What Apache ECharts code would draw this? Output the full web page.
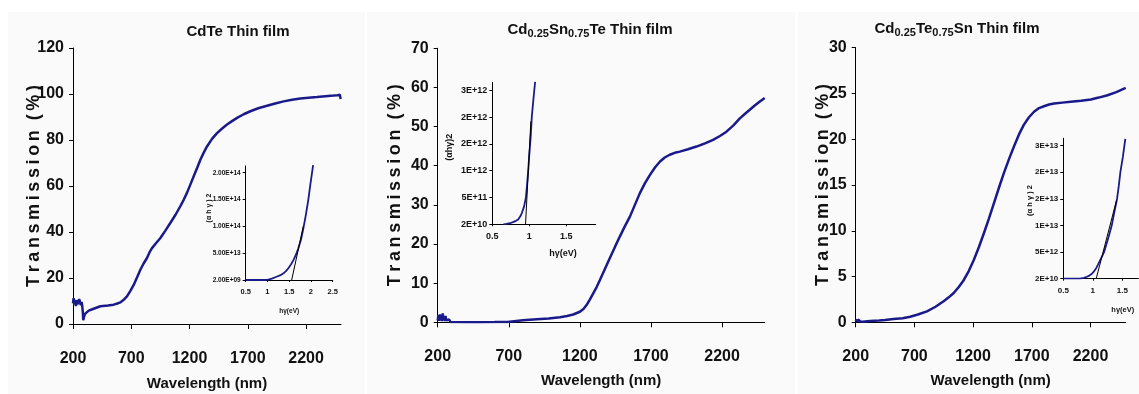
<!DOCTYPE html>
<html>
<head>
<meta charset="utf-8">
<script src="https://cdn.jsdelivr.net/npm/echarts@6.0.0/dist/echarts.min.js"></script>
<style>
  html, body { margin: 0; padding: 0; background: #fff; }
  #chart { width: 1139px; height: 394px; }
</style>
</head>
<body>
<div id="chart"></div>
<script>
// transmission spectra, wavelength in nm, transmission in %
const wlCdTe = [200, 205, 212, 218, 225, 231, 238, 246, 253, 260, 267, 274, 280, 285, 288, 295, 305, 317, 335, 360, 377, 435, 500, 549, 580, 606, 635, 663, 690, 721, 750, 778, 806, 835, 860, 878, 910, 950, 990, 1035, 1080, 1121, 1150, 1178, 1207, 1236, 1265, 1293, 1322, 1350, 1393, 1436, 1480, 1522, 1565, 1608, 1665, 1722, 1790, 1865, 1935, 2008, 2080, 2151, 2220, 2294, 2365, 2437, 2470, 2490, 2497];
const trCdTe = [9, 11.2, 8.5, 10.5, 7.8, 10.4, 8.6, 8.3, 10.8, 9.6, 8.2, 9.6, 7.5, 4.6, 1.7, 3.2, 4.5, 5.3, 5.8, 6.3, 7, 7.7, 8.0, 8.4, 8.9, 9.4, 10.5, 12, 14.2, 17, 20.3, 23.6, 26.3, 28.7, 31.5, 33, 35, 37.4, 40.4, 43.9, 47.5, 51.2, 54, 57, 60.6, 64.2, 67.8, 71.4, 74.5, 77.2, 80.5, 83, 85, 86.7, 88.2, 89.6, 91.2, 92.5, 93.8, 94.9, 95.9, 96.8, 97.5, 98, 98.4, 98.7, 99, 99.3, 99.5, 99.7, 97.8];

const wlSn = [200, 205, 210, 215, 220, 225, 230, 235, 240, 245, 250, 255, 260, 265, 270, 280, 290, 300, 400, 500, 600, 690, 700, 800, 896, 980, 1060, 1110, 1153, 1200, 1225, 1247, 1270, 1294, 1318, 1341, 1376, 1411, 1446, 1481, 1516, 1552, 1587, 1622, 1657, 1692, 1727, 1762, 1797, 1832, 1867, 1903, 1960, 2020, 2080, 2137, 2185, 2231, 2280, 2325, 2360, 2395, 2430, 2466, 2500];
const trSn = [0.5, 1.8, 0.4, 2.0, 0.6, 1.5, 0.3, 2.3, 0.8, 1.4, 0.3, 1.6, 0.5, 1.0, 0.2, 0.7, 0.1, 0, 0, 0, 0.05, 0.1, 0.3, 0.5, 0.8, 1.0, 1.3, 1.6, 2.0, 2.7, 3.4, 4.4, 5.8, 7.4, 9.0, 10.8, 13.6, 16.4, 19.2, 21.9, 24.5, 27, 30, 33, 35.5, 37.6, 39.5, 41, 42.1, 42.8, 43.3, 43.6, 44.2, 44.9, 45.7, 46.6, 47.6, 48.7, 50.3, 52.1, 53.2, 54.3, 55.4, 56.4, 57.3];

const wlTe = [200, 205, 210, 215, 220, 225, 230, 240, 250, 260, 270, 280, 290, 322, 400, 450, 522, 600, 664, 730, 807, 880, 949, 990, 1035, 1078, 1120, 1163, 1206, 1249, 1291, 1334, 1377, 1420, 1462, 1505, 1548, 1590, 1633, 1676, 1719, 1762, 1804, 1847, 1890, 1960, 2032, 2120, 2203, 2270, 2345, 2420, 2500];
const trTe = [0.3, 0.1, 0.35, 0.05, 0.3, 0.1, 0.38, 0.1, 0.3, 0.05, 0.25, 0.1, 0.15, 0.15, 0.2, 0.25, 0.36, 0.45, 0.6, 0.85, 1.2, 1.7, 2.3, 2.7, 3.2, 3.85, 4.6, 5.6, 6.8, 8.2, 9.7, 11.3, 13, 14.7, 16.3, 17.8, 19.2, 20.5, 21.6, 22.4, 23, 23.4, 23.6, 23.8, 23.9, 24.0, 24.1, 24.2, 24.35, 24.55, 24.8, 25.15, 25.6];

// Tauc plots (photon energy in eV vs (alpha h nu)^2) and their tangents
const evCdTe = [0.5, 0.7, 0.9, 1.0, 1.1, 1.21, 1.3, 1.37, 1.43, 1.48, 1.54, 1.6, 1.66, 1.71, 1.77, 1.82, 1.88, 1.94, 1.99, 2.05];
const tcCdTe = [2e9, 2e9, 2e9, 1e11, 2.5e12, 6e12, 9e12, 1.25e13, 1.7e13, 2.2e13, 2.9e13, 3.75e13, 4.8e13, 5.9e13, 7.5e13, 9.4e13, 1.2e14, 1.5e14, 1.8e14, 2.14e14];
const fitEvCdTe = [1.557, 1.824];
const fitTcCdTe = [2e9, 1.0e14];

const evSn = [0.65, 0.69, 0.74, 0.78, 0.82, 0.85, 0.88, 0.9, 0.93, 0.955, 0.97, 0.986, 1.0, 1.02, 1.035, 1.06, 1.08];
const tcSn = [2e10, 2.6e10, 4e10, 6e10, 8.5e10, 1.1e11, 1.7e11, 2.3e11, 3.5e11, 5.2e11, 7.5e11, 1.02e12, 1.3e12, 1.66e12, 2.03e12, 2.4e12, 2.68e12];
const fitEvSn = [0.95, 1.022];
const fitTcSn = [2e10, 1.94e12];

const evTe = [0.5, 0.65, 0.78, 0.85, 0.9, 0.94, 0.98, 1.02, 1.057, 1.09, 1.125, 1.16, 1.19, 1.23, 1.27, 1.32, 1.36, 1.41, 1.44, 1.466, 1.51, 1.55];
const tcTe = [2e10, 2e10, 4e10, 1.6e11, 3.9e11, 6e11, 9e11, 1.4e12, 2e12, 2.7e12, 3.5e12, 4.3e12, 5e12, 6.5e12, 8e12, 1e13, 1.23e13, 1.5e13, 1.75e13, 2e13, 2.3e13, 2.63e13];
const fitEvTe = [1.057, 1.4];
const fitTcTe = [2e10, 1.47e13];

const FONT = '"Liberation Sans Narrow", "Arial Narrow", "Liberation Sans", Arial, sans-serif';
const NAVY = '#1a1a8a';
const INK = '#111';
const THIN = '\u2009';
// the y title is letter-spaced in the original
const TRANS_TITLE = 'Transmission'.split('').join(THIN) + '  ' + ['(', '%', ')'].join(THIN);

const pairs = (xs, ys) => xs.map((x, i) => [x, ys[i]]);

// excel style scientific labels: 2.00E+09, 5E+11
const sci = (digits) => (v) => {
  const [m, e] = v.toExponential(digits).split('e');
  return m + 'E' + e[0] + e.slice(1).padStart(2, '0');
};

const txt = (size) => ({ fontFamily: FONT, fontSize: size, fontWeight: 'bold', color: INK });
const axisLine = { show: true, onZero: false, lineStyle: { color: '#000', width: 1 } };

function mainX(gridIndex, nameGap, labelMargin) {
  return {
    gridIndex, type: 'value', min: 200, max: 2500, interval: 500,
    name: 'Wavelength (nm)', nameLocation: 'middle', nameGap, nameMoveOverlap: false,
    nameTextStyle: txt(15),
    axisLine, axisTick: { show: true, inside: false, length: 5, lineStyle: { color: '#000' } },
    axisLabel: { ...txt(16), margin: labelMargin, showMaxLabel: false, formatter: (v) => String(v) },
    splitLine: { show: false }
  };
}

function mainY(gridIndex, max, interval, nameGap) {
  return {
    gridIndex, type: 'value', min: 0, max, interval,
    name: TRANS_TITLE, nameLocation: 'middle', nameGap, nameMoveOverlap: false,
    nameTextStyle: txt(18),
    axisLine, axisTick: { show: true, inside: false, length: 4, lineStyle: { color: '#000' } },
    axisLabel: { ...txt(16), margin: 9 },
    splitLine: { show: false }
  };
}

function insetX(gridIndex, max, size, nameSize, nameGap, shift, showMax) {
  return {
    gridIndex, type: 'value', min: 0.5, max, interval: 0.5,
    name: 'hγ(eV)', nameLocation: 'middle', nameGap, nameMoveOverlap: false,
    nameTextStyle: { ...txt(nameSize), padding: [0, 0, 0, shift] },
    axisLine, axisTick: { show: true, inside: false, length: 2, lineStyle: { color: '#000' } },
    axisLabel: { ...txt(size), margin: 8, showMaxLabel: showMax },
    splitLine: { show: false }
  };
}

function insetY(gridIndex, min, max, interval, digits, size, name, nameSize, nameGap, shift) {
  return {
    gridIndex, type: 'value', min, max, interval,
    name, nameLocation: 'middle', nameGap, nameMoveOverlap: false,
    nameTextStyle: { ...txt(nameSize), padding: [0, 0, 0, shift] },
    axisLine, axisTick: { show: true, inside: false, length: 3, lineStyle: { color: '#000' } },
    axisLabel: { ...txt(size), margin: 5, showMaxLabel: false, formatter: sci(digits) },
    splitLine: { show: false }
  };
}

function line(xi, data, color, width) {
  return {
    type: 'line', xAxisIndex: xi, yAxisIndex: xi, data,
    showSymbol: false, clip: true, animation: false,
    lineStyle: { color, width }
  };
}

const sub = { fontFamily: FONT, fontSize: 11, fontWeight: 'bold', color: INK, padding: [8, 0, 0, 0] };
const titleStyle = { ...txt(15), rich: { s: sub } };

const chart = echarts.init(document.getElementById('chart'), null, { renderer: 'canvas' });

chart.setOption({
  backgroundColor: '#fff',
  animation: false,
  graphic: [
    { type: 'rect', z: -10, shape: { x: 8, y: 12, width: 357, height: 382 }, style: { fill: '#fafafa' } },
    { type: 'rect', z: -10, shape: { x: 367, y: 12, width: 428, height: 382 }, style: { fill: '#fafafa' } },
    { type: 'rect', z: -10, shape: { x: 798, y: 12, width: 341, height: 382 }, style: { fill: '#fafafa' } }
  ],
  title: [
    { text: 'CdTe Thin film', left: 238, top: 24, textAlign: 'center', padding: 0, textStyle: titleStyle },
    { text: 'Cd{s|0.25}Sn{s|0.75}Te Thin film', left: 590, top: 20, textAlign: 'center', padding: 0, textStyle: titleStyle },
    { text: 'Cd{s|0.25}Te{s|0.75}Sn Thin film', left: 957, top: 19, textAlign: 'center', padding: 0, textStyle: titleStyle }
  ],
  grid: [
    { left: 73, top: 48, width: 268, height: 276, outerBoundsMode: 'none' },
    { left: 437.7, top: 48.3, width: 327, height: 274, outerBoundsMode: 'none' },
    { left: 855.7, top: 47.7, width: 270, height: 274.6, outerBoundsMode: 'none' },
    { left: 245.7, top: 166, width: 87, height: 114, outerBoundsMode: 'none' },
    { left: 492.3, top: 82.3, width: 103.4, height: 142, outerBoundsMode: 'none' },
    { left: 1063.3, top: 138.3, width: 75, height: 140.4, outerBoundsMode: 'none' }
  ],
  xAxis: [
    mainX(0, 52, 27),
    mainX(1, 51, 26),
    mainX(2, 51, 26),
    insetX(3, 2.5, 7.5, 6.5, 28, 0, true),
    insetX(4, 1.9, 9, 9, 25, 38, false),
    insetX(5, 1.77, 8, 7.5, 27, 44, false)
  ],
  yAxis: [
    mainY(0, 120, 20, 30),
    mainY(1, 70, 10, 34),
    mainY(2, 30, 5, 24),
    insetY(3, 2e9, 2.125e14, 5e13, 2, 6.5, '(α h γ ) 2', 7, 33, 30),
    insetY(4, 2e10, 2.67e12, 5e11, 0, 9, '(αhγ)2', 9, 38, 12),
    insetY(5, 2e10, 2.64e13, 5e12, 0, 8, '(α h γ ) 2', 7.5, 29, 16)
  ],
  series: [
    line(0, pairs(wlCdTe, trCdTe), NAVY, 2.5),
    line(1, pairs(wlSn, trSn), NAVY, 2.5),
    line(2, pairs(wlTe, trTe), NAVY, 2.5),
    line(3, pairs(evCdTe, tcCdTe), NAVY, 1.8),
    line(3, pairs(fitEvCdTe, fitTcCdTe), '#000', 1),
    line(4, pairs(evSn, tcSn), NAVY, 1.8),
    line(4, pairs(fitEvSn, fitTcSn), '#000', 1),
    line(5, pairs(evTe, tcTe), NAVY, 1.8),
    line(5, pairs(fitEvTe, fitTcTe), '#000', 1)
  ]
});
</script>
</body>
</html>
